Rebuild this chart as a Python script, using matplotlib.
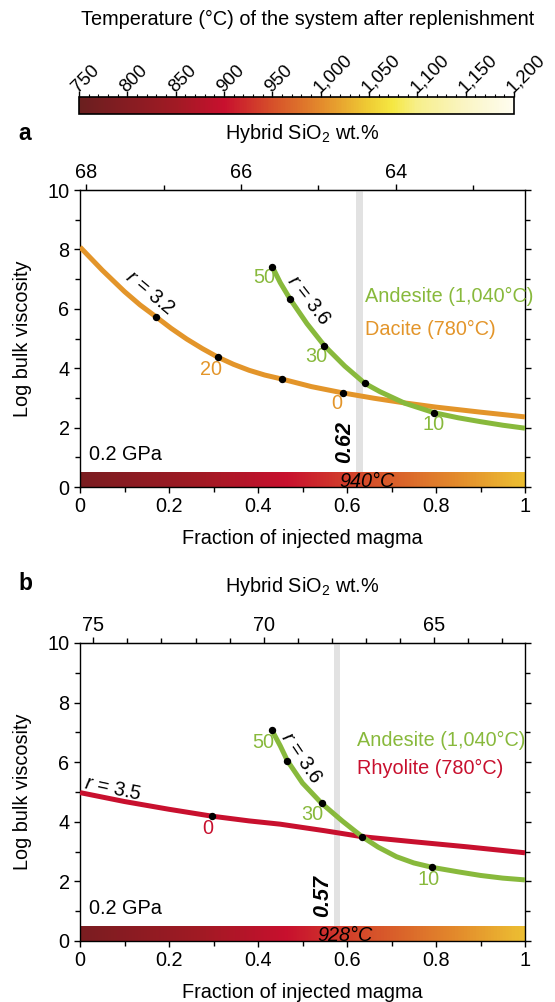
import numpy as np
import matplotlib
matplotlib.use("Agg")
import matplotlib.pyplot as plt
from matplotlib.colors import LinearSegmentedColormap, Normalize
from matplotlib.cm import ScalarMappable
from matplotlib.ticker import MultipleLocator, FuncFormatter
from matplotlib.transforms import ScaledTranslation

plt.rcParams['font.family'] = ['Liberation Sans', 'DejaVu Sans']
plt.rcParams['mathtext.fontset'] = 'custom'
plt.rcParams['mathtext.rm'] = 'Liberation Sans'
plt.rcParams['mathtext.it'] = 'Liberation Sans:italic'
plt.rcParams['mathtext.bf'] = 'Liberation Sans:bold'

# temperature colour scale (°C)
cb_temps = [750, 800, 850, 900, 950, 1000, 1050, 1075, 1100, 1150, 1200]
cb_colors = ['#6a1f1f', '#861c22', '#a11a24', '#c8102e', '#d6502a', '#e38a2c',
             '#efcc34', '#f5e842', '#f7ef8a', '#faf5c4', '#fffdf0']
T_low, T_high = 780, 1040          # resident magma, injected andesite

si_dacite, si_rhyolite, si_andesite = 68.08, 75.39, 62.33

# panel a: dacite + andesite
dac_f = [0, 0.05, 0.10, 0.135, 0.17, 0.205, 0.24, 0.275, 0.31, 0.345, 0.38, 0.415,
         0.455, 0.52, 0.59, 0.66, 0.73, 0.80, 0.90, 1.0]
dac_y = [8.08, 7.30, 6.58, 6.13, 5.74, 5.34, 4.98, 4.66, 4.37, 4.13, 3.93, 3.77,
         3.63, 3.38, 3.17, 2.99, 2.83, 2.69, 2.52, 2.36]
dac_dot_f = [0.17, 0.31, 0.455, 0.59]
dac_dot_y = [5.74, 4.37, 3.63, 3.17]
anda_f = [0.432, 0.45, 0.472, 0.51, 0.549, 0.595, 0.64, 0.674, 0.73, 0.796, 0.85, 0.90, 0.95, 1.0]
anda_y = [7.42, 6.88, 6.33, 5.50, 4.76, 4.07, 3.49, 3.21, 2.82, 2.50, 2.33, 2.20, 2.08, 1.98]
anda_dot_f = [0.432, 0.472, 0.549, 0.640, 0.796]
anda_dot_y = [7.42, 6.33, 4.76, 3.49, 2.50]

# panel b: rhyolite + andesite
rhy_f = [0, 0.10, 0.20, 0.296, 0.38, 0.45, 0.55, 0.634, 0.75, 0.87, 1.0]
rhy_y = [4.98, 4.68, 4.42, 4.19, 4.03, 3.92, 3.70, 3.50, 3.33, 3.16, 2.96]
rhy_dot_f = [0.296]
rhy_dot_y = [4.19]
andb_f = [0.431, 0.45, 0.466, 0.50, 0.543, 0.59, 0.634, 0.67, 0.711, 0.75, 0.792, 0.85, 0.90, 0.95, 1.0]
andb_y = [7.08, 6.55, 6.05, 5.30, 4.62, 4.02, 3.50, 3.15, 2.83, 2.62, 2.47, 2.32, 2.20, 2.11, 2.05]
andb_dot_f = [0.431, 0.466, 0.543, 0.634, 0.792]
andb_dot_y = [7.08, 6.05, 4.62, 3.50, 2.47]

# critical fraction and system temperature there
crit_a, crit_b = 0.62, 0.57
tcrit_a, tcrit_b = 940, 928

green = '#88b93c'
orange = '#e3952a'
red = '#c8102e'

cmap = LinearSegmentedColormap.from_list(
    'temp', [((t - 750) / 450, c) for t, c in zip(cb_temps, cb_colors)])
norm = Normalize(750, 1200)

W, H = 555, 1002
fig = plt.figure(figsize=(W / 100, H / 100), dpi=100)
FS = 14.3


def px_axes(x0, y0, x1, y1):
    return fig.add_axes([x0 / W, 1 - y1 / H, (x1 - x0) / W, (y1 - y0) / H])


# ---- colour bar ----
cax = px_axes(79, 97, 514, 113.5)
cb = fig.colorbar(ScalarMappable(norm, cmap), cax=cax, orientation='horizontal',
                  ticklocation='top')
cb.outline.set_linewidth(1.2)
cax.set_xticks(range(750, 1201, 50))
cax.xaxis.set_minor_locator(MultipleLocator(10))
cax.xaxis.set_major_formatter(FuncFormatter(lambda v, p: f'{int(v):,}'))
cax.tick_params(which='major', direction='out', length=4, width=1, pad=1)
cax.tick_params(which='minor', direction='out', length=2, width=0.8)
shift = ScaledTranslation(-4 / 100, 0, fig.dpi_scale_trans)
for lab in cax.get_xticklabels():
    lab.set_rotation(45)
    lab.set_ha('left')
    lab.set_va('center')
    lab.set_rotation_mode('anchor')
    lab.set_fontsize(13.3)
    lab.set_transform(lab.get_transform() + shift)
fig.text(308 / W, 1 - 19 / H, 'Temperature (°C) of the system after replenishment',
         ha='center', va='center', fontsize=FS)


def panel(y_top, y_bot, resident_f, resident_y, res_dot_f, res_dot_y, res_color,
          and_f, and_y, and_dot_f, and_dot_y, si_res, si_ticks, crit, tcrit):
    ax = px_axes(80, y_top, 525, y_bot)
    frac = np.linspace(0, 1, 300)
    temp = T_low + (T_high - T_low) * frac
    ax.imshow(temp[None, :], extent=(0, 1, 0, 0.5), aspect='auto', cmap=cmap,
              norm=norm, zorder=1)
    ax.axvspan(crit, crit + 0.015, color='#e2e2e2', zorder=0.5, lw=0)
    ax.plot(resident_f, resident_y, color=res_color, lw=3.6, zorder=3,
            solid_capstyle='butt', solid_joinstyle='round')
    ax.plot(and_f, and_y, color=green, lw=3.6, zorder=3, solid_capstyle='butt',
            solid_joinstyle='round')
    ax.plot(res_dot_f, res_dot_y, 'o', color='black', ms=4.3, zorder=4)
    ax.plot(and_dot_f, and_dot_y, 'o', color='black', ms=4.3, zorder=4)
    ax.set_xlim(0, 1)
    ax.set_ylim(0, 10)
    ax.xaxis.set_major_locator(MultipleLocator(0.2))
    ax.xaxis.set_minor_locator(MultipleLocator(0.1))
    ax.yaxis.set_major_locator(MultipleLocator(2))
    ax.yaxis.set_minor_locator(MultipleLocator(1))
    ax.xaxis.set_major_formatter(FuncFormatter(lambda v, p: f'{v:g}'))
    ax.tick_params(which='both', direction='out', right=True, labelsize=FS, width=1)
    ax.tick_params(which='major', length=4)
    ax.tick_params(which='minor', length=3.5)
    ax.set_xlabel('Fraction of injected magma', fontsize=FS, labelpad=9)
    ax.set_ylabel('Log bulk viscosity', fontsize=FS, labelpad=11)
    for s in ax.spines.values():
        s.set_linewidth(1)

    def f2s(f):
        return si_res + (si_andesite - si_res) * np.asarray(f)

    def s2f(s):
        return (np.asarray(s) - si_res) / (si_andesite - si_res)

    sec = ax.secondary_xaxis('top', functions=(f2s, s2f))
    sec.set_xticks(si_ticks)
    sec.xaxis.set_minor_locator(MultipleLocator(1))
    sec.tick_params(which='both', direction='out', labelsize=FS, width=1, pad=2)
    sec.tick_params(which='major', length=4)
    sec.tick_params(which='minor', length=3.5)
    fig.text(302 / W, 1 - (y_top - 57) / H, 'Hybrid SiO$_2$ wt.%', ha='center',
             va='center', fontsize=FS)

    ax.text(0.02, 1.08, '0.2 GPa', fontsize=FS, ha='left', va='center', zorder=5)
    ax.text(crit - 0.002, 0.8, f'{crit:.2f}', rotation=90, fontsize=15.5,
            fontweight='bold', fontstyle='italic', ha='right', va='bottom', zorder=5)
    ax.text(crit + 0.025, 0.2, f'{tcrit}°C', fontsize=FS, fontstyle='italic',
            ha='center', va='center', zorder=5)
    return ax


ax_a = panel(190, 487, dac_f, dac_y, dac_dot_f, dac_dot_y, orange,
             anda_f, anda_y, anda_dot_f, anda_dot_y, si_dacite, [68, 66, 64],
             crit_a, tcrit_a)
ax_a.text(0.413, 7.04, '50', color=green, fontsize=FS, ha='center', va='center')
ax_a.text(0.532, 4.39, '30', color=green, fontsize=FS, ha='center', va='center')
ax_a.text(0.794, 2.09, '10', color=green, fontsize=FS, ha='center', va='center')
ax_a.text(0.294, 3.96, '20', color=orange, fontsize=FS, ha='center', va='center')
ax_a.text(0.578, 2.82, '0', color=orange, fontsize=FS, ha='center', va='center')
ax_a.text(0.157, 6.53, '$r$ = 3.2', rotation=-40, fontsize=FS, ha='center', va='center')
ax_a.text(0.513, 6.30, '$r$ = 3.6', rotation=-52, fontsize=FS, ha='center', va='center')
ax_a.text(0.64, 6.41, 'Andesite (1,040°C)', color=green, fontsize=FS, ha='left', va='center')
ax_a.text(0.64, 5.29, 'Dacite (780°C)', color=orange, fontsize=FS, ha='left', va='center')
fig.text(18 / W, 1 - 133 / H, 'a', fontsize=16.5, fontweight='bold', va='center')

ax_b = panel(643, 941, rhy_f, rhy_y, rhy_dot_f, rhy_dot_y, red,
             andb_f, andb_y, andb_dot_f, andb_dot_y, si_rhyolite, [75, 70, 65],
             crit_b, tcrit_b)
ax_b.text(0.412, 6.65, '50', color=green, fontsize=FS, ha='center', va='center')
ax_b.text(0.522, 4.23, '30', color=green, fontsize=FS, ha='center', va='center')
ax_b.text(0.783, 2.07, '10', color=green, fontsize=FS, ha='center', va='center')
ax_b.text(0.286, 3.78, '0', color=red, fontsize=FS, ha='center', va='center')
ax_b.text(0.075, 5.12, '$r$ = 3.5', rotation=-12, fontsize=FS, ha='center', va='center')
ax_b.text(0.498, 6.13, '$r$ = 3.6', rotation=-56, fontsize=FS, ha='center', va='center')
ax_b.text(0.622, 6.74, 'Andesite (1,040°C)', color=green, fontsize=FS, ha='left', va='center')
ax_b.text(0.622, 5.80, 'Rhyolite (780°C)', color=red, fontsize=FS, ha='left', va='center')
fig.text(18 / W, 1 - 583 / H, 'b', fontsize=16.5, fontweight='bold', va='center')

fig.savefig('out.png', dpi=100)
